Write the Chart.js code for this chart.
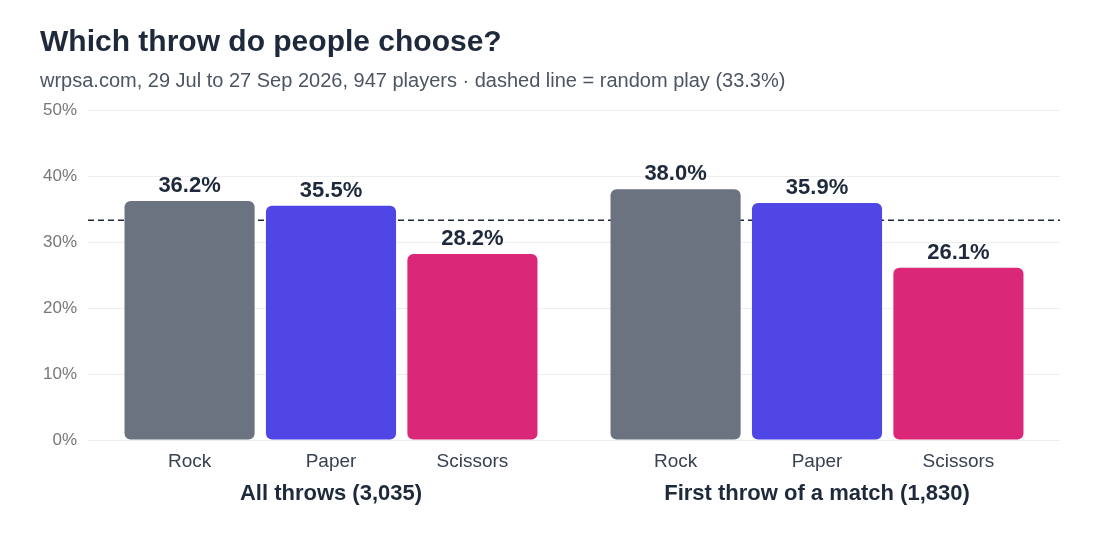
<!DOCTYPE html>
<html>
<head>
<meta charset="utf-8">
<title>Which throw do people choose?</title>
<script src="https://cdn.jsdelivr.net/npm/chart.js@4.4.1/dist/chart.umd.min.js"></script>
<style>
  html, body { margin: 0; padding: 0; background: #ffffff; }
  #wrap { width: 1100px; height: 560px; }
</style>
</head>
<body>
<div id="wrap"><canvas id="myChart" width="1100" height="560"></canvas></div>
<script>
// ── Data ─────────────────────────────────────
const groups      = ['All throws (3,035)', 'First throw of a match (1,830)'];
const throws      = ['Rock', 'Paper', 'Scissors'];
const allThrows   = [36.2, 35.5, 28.2];
const firstThrows = [38.0, 35.9, 26.1];
const randomPlay  = 33.3;
const yTicks      = [0, 10, 20, 30, 40, 50];

const throwColors = ['#6b7280', '#4f46e5', '#db2777'];
const FONT = "'Liberation Sans', Arial, Helvetica, sans-serif";

// one dataset per throw, one bar per group
const datasets = throws.map((name, i) => ({
  label: name,
  data: [allThrows[i], firstThrows[i]],
  backgroundColor: throwColors[i],
  borderRadius: 6,
  borderSkipped: false,
  categoryPercentage: 0.873,
  barPercentage: 0.92
}));

// dashed "random play" line, behind the bars
const randomLine = {
  id: 'randomLine',
  beforeDatasetsDraw(chart) {
    const { ctx, chartArea, scales } = chart;
    const y = scales.y.getPixelForValue(randomPlay);
    ctx.save();
    ctx.strokeStyle = '#1f2937';
    ctx.lineWidth = 1.6;
    ctx.setLineDash([6, 4]);
    ctx.beginPath();
    ctx.moveTo(chartArea.left, y);
    ctx.lineTo(chartArea.right, y);
    ctx.stroke();
    ctx.restore();
  }
};

// value labels above bars + throw names under each bar
const barLabels = {
  id: 'barLabels',
  afterDatasetsDraw(chart) {
    const { ctx, chartArea } = chart;
    ctx.save();
    ctx.textAlign = 'center';
    chart.data.datasets.forEach((ds, i) => {
      chart.getDatasetMeta(i).data.forEach((bar, j) => {
        ctx.font = 'bold 22px ' + FONT;
        ctx.fillStyle = '#1e293b';
        ctx.textBaseline = 'alphabetic';
        ctx.fillText(ds.data[j].toFixed(1) + '%', bar.x, bar.y - 9);

        ctx.font = '19px ' + FONT;
        ctx.fillStyle = '#374151';
        ctx.textBaseline = 'middle';
        ctx.fillText(ds.label, bar.x, chartArea.bottom + 21.5);
      });
    });
    ctx.restore();
  }
};

new Chart(document.getElementById('myChart'), {
  type: 'bar',
  data: { labels: groups, datasets },
  options: {
    responsive: false,
    animation: false,
    layout: { padding: { top: 25, left: 40, right: 40, bottom: 12 } },
    plugins: {
      legend: { display: false },
      tooltip: { enabled: false },
      title: {
        display: true,
        text: 'Which throw do people choose?',
        align: 'start',
        color: '#1e293b',
        font: { family: FONT, size: 30, weight: 'bold' },
        padding: { top: 0, bottom: 8.5 }
      },
      subtitle: {
        display: true,
        text: 'wrpsa.com, 29 Jul to 27 Sep 2026, 947 players \u00b7 dashed line = random play (33.3%)',
        align: 'start',
        color: '#4b5563',
        font: { family: FONT, size: 20 },
        padding: { top: 0, bottom: 16.5 }
      }
    },
    scales: {
      x: {
        grid: { display: false, drawTicks: false },
        border: { display: false },
        ticks: {
          color: '#1e293b',
          padding: 40.8,
          font: { family: FONT, size: 22, weight: 'bold' }
        }
      },
      y: {
        min: 0,
        max: 50,
        afterBuildTicks: axis => { axis.ticks = yTicks.map(v => ({ value: v })); },
        afterFit: axis => { axis.width = 48; },
        grid: { color: '#eeeeee', drawTicks: false },
        border: { display: false },
        ticks: {
          color: '#777777',
          padding: 11,
          font: { family: FONT, size: 17 },
          callback: v => v + '%'
        }
      }
    }
  },
  plugins: [randomLine, barLabels]
});
</script>
</body>
</html>
